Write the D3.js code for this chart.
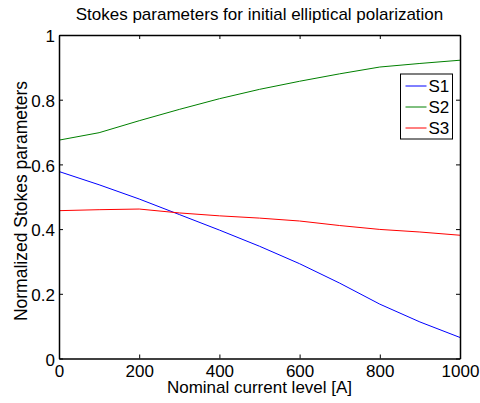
<!DOCTYPE html>
<html>
<head>
<meta charset="utf-8">
<script src="https://cdn.jsdelivr.net/npm/d3@7"></script>
<style>
  html, body { margin: 0; padding: 0; background: #fff; }
  svg { display: block; font-family: "Liberation Sans", Arial, Helvetica, sans-serif; }
</style>
</head>
<body>
<svg id="chart" width="480" height="403"></svg>
<script>
// Nominal current levels [A]
const current = [0, 100, 200, 300, 400, 500, 600, 700, 800, 900, 1000];
// Normalized Stokes parameters at each current level
const s1 = [0.578, 0.537, 0.493, 0.445, 0.397, 0.347, 0.293, 0.233, 0.168, 0.113, 0.065];
const s2 = [0.675, 0.698, 0.735, 0.770, 0.803, 0.832, 0.857, 0.880, 0.901, 0.912, 0.922];
const s3 = [0.457, 0.460, 0.462, 0.450, 0.441, 0.434, 0.425, 0.411, 0.399, 0.391, 0.381];
const seriesNames = ["S1", "S2", "S3"];
const seriesColors = ["#0000ff", "#008000", "#ff0000"];
const xTicks = [0, 200, 400, 600, 800, 1000];
const yTicks = [0, 0.2, 0.4, 0.6, 0.8, 1];

const svg = d3.select("#chart");
const plotL = 59, plotR = 460, plotT = 35, plotB = 358.5;
const fontSize = "17px";

const x = d3.scaleLinear().domain([0, 1000]).range([plotL, plotR]);
const y = d3.scaleLinear().domain([0, 1]).range([plotB, plotT]);

const series = [s1, s2, s3].map((vals, i) => ({
  name: seriesNames[i],
  color: seriesColors[i],
  values: vals.map((v, j) => ({ x: current[j], y: v }))
}));

// data lines
const line = d3.line().x(d => x(d.x)).y(d => y(d.y));
svg.append("g").selectAll("path").data(series).join("path")
  .attr("d", d => line(d.values))
  .attr("fill", "none")
  .attr("stroke", d => d.color)
  .attr("stroke-width", 1);

const tickFmtY = d => d === 0 || d === 1 ? String(d) : d3.format(".1f")(d);

// axes with inward ticks on all four sides (box style)
const axB = svg.append("g").attr("transform", `translate(0,${plotB})`)
  .call(d3.axisBottom(x).tickValues(xTicks).tickSizeInner(-4).tickSizeOuter(0).tickPadding(6).tickFormat(d3.format("d")));
const axT = svg.append("g").attr("transform", `translate(0,${plotT})`)
  .call(d3.axisTop(x).tickValues(xTicks).tickSizeInner(-4).tickSizeOuter(0).tickFormat(""));
const axL = svg.append("g").attr("transform", `translate(${plotL},0)`)
  .call(d3.axisLeft(y).tickValues(yTicks).tickSizeInner(-4).tickSizeOuter(0).tickPadding(4).tickFormat(tickFmtY));
const axR = svg.append("g").attr("transform", `translate(${plotR},0)`)
  .call(d3.axisRight(y).tickValues(yTicks).tickSizeInner(-4).tickSizeOuter(0).tickFormat(""));

[axB, axT, axL, axR].forEach(g => {
  g.select(".domain").attr("stroke", "#000").attr("stroke-width", 1.5);
  g.selectAll(".tick line").attr("stroke", "#000").attr("stroke-width", 1);
  g.selectAll("text").attr("fill", "#000").style("font-size", fontSize)
    .style("font-family", "'Liberation Sans', Arial, sans-serif");
});
axB.selectAll("text").attr("dy", "0.71em");
axL.selectAll("text").attr("dy", "0.4em");

// title and axis labels
svg.append("text").attr("x", (plotL + plotR) / 2).attr("y", 20)
  .attr("text-anchor", "middle").style("font-size", fontSize).attr("fill", "#000")
  .text("Stokes parameters for initial elliptical polarization");
svg.append("text").attr("x", (plotL + plotR) / 2).attr("y", 393)
  .attr("text-anchor", "middle").style("font-size", fontSize).attr("fill", "#000")
  .text("Nominal current level [A]");
svg.append("text").attr("transform", `translate(26.5,201) rotate(-90)`)
  .attr("text-anchor", "middle").style("font-size", "17.5px").attr("fill", "#000")
  .text("Normalized Stokes parameters");

// legend
const lg = svg.append("g").attr("transform", "translate(400.5,74)");
lg.append("rect").attr("width", 52).attr("height", 65)
  .attr("fill", "#fff").attr("stroke", "#000").attr("stroke-width", 1);
const items = lg.selectAll("g.item").data(series).join("g")
  .attr("class", "item")
  .attr("transform", (d, i) => `translate(0,${12 + i * 21})`);
items.append("line").attr("x1", 5).attr("x2", 26).attr("y1", 0).attr("y2", 0)
  .attr("stroke", d => d.color).attr("stroke-width", 1);
items.append("text").attr("x", 28).attr("y", 0).attr("dy", "0.36em")
  .style("font-size", fontSize).attr("fill", "#000").text(d => d.name);
</script>
</body>
</html>
